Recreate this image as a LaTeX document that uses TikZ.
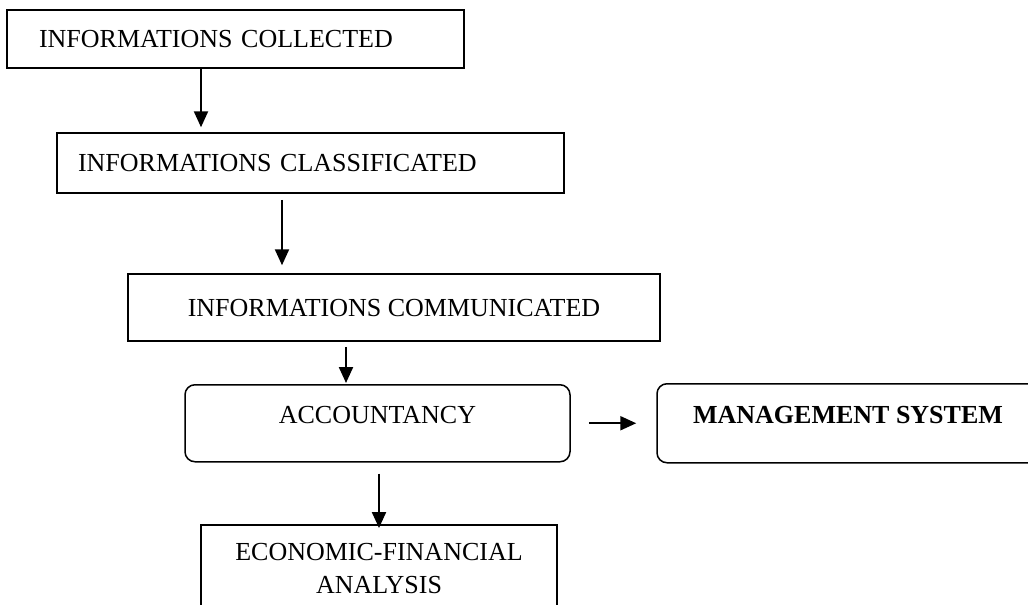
\documentclass[tikz,border=0pt]{standalone}
\usepackage{fontspec}
\setmainfont{Liberation Serif}
\usetikzlibrary{arrows.meta}
\begin{document}
\begin{tikzpicture}[x=1pt,y=-1pt,
  base/.style={draw, line width=1.5pt, font=\fontsize{26}{33}\selectfont, inner sep=0pt},
  one/.style={base, text height=17pt, text depth=0pt},
  rbox/.style={one, rounded corners=10pt, text depth=16pt},
  arr/.style={line width=2.2pt, -{Triangle[length=16pt,width=14pt]}}]
\useasboundingbox (0,0) rectangle (1028,605);
\clip (0,0) rectangle (1028,605);
\node[one, minimum width=457pt, minimum height=58pt, text width=393pt, inner xsep=32pt, align=left] (c1) at (235.5,39) {INFORMATIONS COLLECTED};
\node[one, minimum width=507pt, minimum height=60pt, text width=465pt, inner xsep=21pt, align=left] (c2) at (310.5,163) {INFORMATIONS CLASSIFICATED};
\node[one, minimum width=532pt, minimum height=67pt] (c3) at (394,307.5) {INFORMATIONS COMMUNICATED};
\node[rbox, anchor=north, minimum width=385pt, inner ysep=22pt] (acc) at (377.5,384) {ACCOUNTANCY};
\node[rbox, anchor=north, minimum width=382pt, inner ysep=23pt, font=\fontsize{26}{33}\selectfont\bfseries] (mgmt) at (848,383) {MANAGEMENT SYSTEM};
\node[base, anchor=north, minimum width=356pt, inner ysep=19pt, align=center] (efa) at (379,524) {ECONOMIC-FINANCIAL\\ANALYSIS};
\coordinate (v1) at (201,0);
\coordinate (v2) at (282,0);
\coordinate (v3) at (346,0);
\coordinate (v4) at (379,0);
\draw[arr, shorten >=5pt] (v1 |- c1.south) -- (v1 |- c2.north);
\draw[arr, shorten <=6pt, shorten >=8pt] (v2 |- c2.south) -- (v2 |- c3.north);
\draw[arr, shorten <=5pt, shorten >=1pt] (v3 |- c3.south) -- (v3 |- acc.north);
\draw[arr, shorten <=11pt, shorten >=-4pt] (v4 |- acc.south) -- (v4 |- efa.north);
\draw[arr, shorten <=18pt, shorten >=20pt] (acc.east) -- (mgmt.west);
\end{tikzpicture}
\end{document}
